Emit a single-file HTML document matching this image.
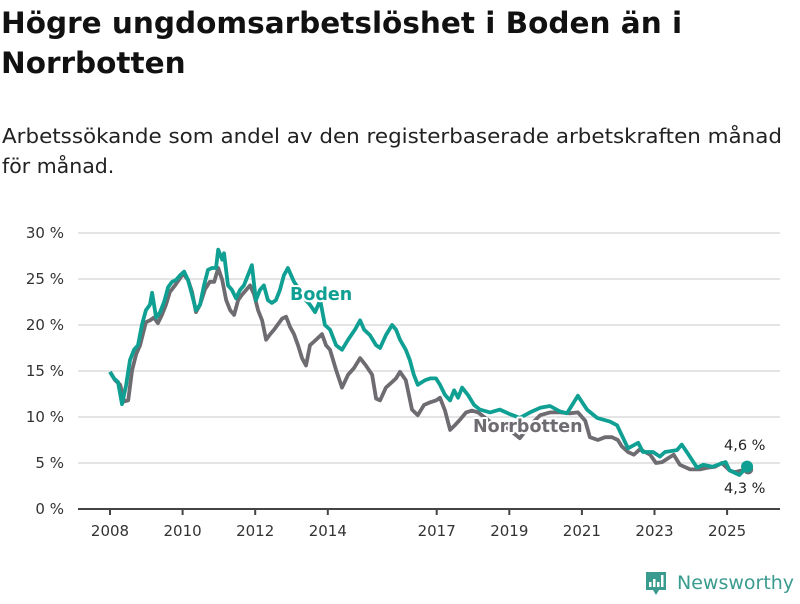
<!DOCTYPE html>
<html><head><meta charset="utf-8"><style>
body{margin:0;background:#fff;width:800px;height:600px;overflow:hidden;font-family:"DejaVu Sans",sans-serif}
</style></head><body>
<svg width="800" height="600" xmlns="http://www.w3.org/2000/svg">
<text x="1" y="33" font-size="29.5" font-weight="bold" fill="#111" font-family="DejaVu Sans, sans-serif">Högre ungdomsarbetslöshet i Boden än i</text>
<text x="1" y="73" font-size="29.5" font-weight="bold" fill="#111" font-family="DejaVu Sans, sans-serif">Norrbotten</text>
<text x="2" y="143" font-size="20.5" fill="#222" font-family="DejaVu Sans, sans-serif" textLength="780" lengthAdjust="spacingAndGlyphs">Arbetssökande som andel av den registerbaserade arbetskraften månad</text>
<text x="2" y="173" font-size="20.5" fill="#222" font-family="DejaVu Sans, sans-serif">för månad.</text>
<g id="grid"></g>
<g id="xaxis"></g>
<g id="lines"></g>
<g id="labels"></g>
<g>
<path d="M646 572h20v18h-7l-3 5-3-5h-7z" fill="#3a9b8f"/>
<rect x="649" y="582" width="2.5" height="5" fill="#fff"/><rect x="653" y="579" width="2.5" height="8" fill="#fff"/><rect x="657" y="582" width="2.5" height="5" fill="#fff"/><rect x="661" y="575" width="2.5" height="12" fill="#fff"/>
<text x="677" y="589" font-size="19" fill="#3a9b8f" font-family="DejaVu Sans, sans-serif">Newsworthy</text>
</g>
</svg>
<script>
const yTicks=[0,5,10,15,20,25,30];
const xTicks=[2008,2010,2012,2014,2017,2019,2021,2023,2025];
const bodenDates=[2008.00,2008.11,2008.22,2008.33,2008.44,2008.55,2008.66,2008.77,2008.88,2008.99,2009.10,2009.16,2009.27,2009.38,2009.49,2009.60,2009.71,2009.82,2009.93,2010.04,2010.15,2010.26,2010.37,2010.48,2010.59,2010.70,2010.81,2010.92,2010.98,2011.09,2011.14,2011.25,2011.36,2011.47,2011.58,2011.69,2011.80,2011.91,2012.02,2012.13,2012.24,2012.35,2012.46,2012.57,2012.68,2012.79,2012.90,2013.07,2013.23,2013.40,2013.51,2013.65,2013.79,2013.92,2014.06,2014.23,2014.39,2014.56,2014.75,2014.89,2015.00,2015.16,2015.33,2015.44,2015.60,2015.77,2015.88,2015.99,2016.15,2016.26,2016.37,2016.48,2016.68,2016.82,2016.98,2017.09,2017.23,2017.37,2017.48,2017.59,2017.70,2017.86,2018.03,2018.19,2018.47,2018.74,2019.02,2019.29,2019.57,2019.85,2020.12,2020.40,2020.59,2020.89,2021.14,2021.42,2021.77,2021.97,2022.27,2022.55,2022.68,2022.96,2023.15,2023.29,2023.62,2023.75,2023.89,2024.17,2024.34,2024.60,2024.96,2025.07,2025.34,2025.55];
const bodenValues=[14.9,14.2,13.8,11.4,13.4,16.2,17.3,17.8,20.0,21.6,22.2,23.5,20.8,21.4,22.5,24.1,24.7,24.9,25.4,25.8,24.9,23.3,21.6,22.2,24.3,26.0,26.2,26.2,28.2,27.1,27.8,24.3,23.8,22.9,23.8,24.3,25.4,26.5,22.7,23.8,24.3,22.7,22.4,22.7,23.8,25.4,26.2,24.7,23.8,22.7,22.2,21.4,22.7,20.0,19.5,17.8,17.3,18.4,19.5,20.5,19.5,18.9,17.8,17.5,18.9,20.0,19.5,18.4,17.3,16.2,14.6,13.5,14.0,14.2,14.2,13.5,12.4,11.8,12.9,12.1,13.2,12.4,11.3,10.8,10.5,10.8,10.3,9.9,10.5,11.0,11.2,10.6,10.4,12.3,10.8,9.9,9.5,9.1,6.6,7.2,6.2,6.2,5.7,6.2,6.4,7.0,6.2,4.5,4.8,4.6,5.1,4.2,3.7,4.6];
const norrDates=[2008.00,2008.14,2008.28,2008.39,2008.50,2008.61,2008.72,2008.83,2008.99,2009.10,2009.21,2009.32,2009.43,2009.54,2009.65,2009.79,2009.93,2010.01,2010.15,2010.26,2010.37,2010.48,2010.62,2010.75,2010.87,2010.98,2011.09,2011.20,2011.31,2011.42,2011.53,2011.64,2011.75,2011.86,2011.97,2012.08,2012.19,2012.30,2012.41,2012.52,2012.63,2012.74,2012.85,2012.96,2013.07,2013.18,2013.29,2013.40,2013.51,2013.62,2013.73,2013.84,2013.95,2014.06,2014.23,2014.39,2014.56,2014.72,2014.89,2015.05,2015.22,2015.33,2015.44,2015.60,2015.77,2015.88,2015.99,2016.15,2016.32,2016.48,2016.65,2016.82,2016.98,2017.09,2017.23,2017.37,2017.50,2017.64,2017.81,2017.97,2018.14,2018.47,2018.88,2019.29,2019.57,2019.85,2020.12,2020.40,2020.67,2020.89,2021.09,2021.22,2021.44,2021.64,2021.83,2021.99,2022.10,2022.27,2022.43,2022.60,2022.74,2022.88,2023.04,2023.21,2023.37,2023.53,2023.70,2023.98,2024.25,2024.47,2024.67,2024.85,2025.07,2025.21,2025.41,2025.58];
const norrValues=[14.9,14.0,13.5,11.7,11.8,15.1,16.8,17.8,20.3,20.5,20.8,20.2,21.1,22.2,23.6,24.3,25.1,25.6,24.9,23.6,21.4,22.2,23.9,24.7,24.7,26.2,24.9,22.7,21.6,21.1,22.7,23.3,23.8,24.3,23.3,21.6,20.5,18.4,19.0,19.5,20.1,20.7,20.9,19.8,19.0,17.8,16.4,15.6,17.8,18.2,18.6,19.0,17.8,17.3,15.1,13.2,14.6,15.3,16.4,15.6,14.6,12.0,11.8,13.2,13.8,14.2,14.9,14.0,10.8,10.2,11.3,11.6,11.8,12.1,10.7,8.6,9.1,9.7,10.5,10.7,10.5,9.5,9.0,7.7,9.1,10.2,10.5,10.5,10.4,10.5,9.6,7.8,7.5,7.8,7.8,7.5,6.8,6.2,5.9,6.5,6.2,5.9,5.0,5.1,5.5,5.9,4.8,4.3,4.3,4.5,4.6,5.0,4.2,4.0,4.2,4.3];
const lastLabels=["4,6 %","4,3 %"];

const NS="http://www.w3.org/2000/svg";
const X=y=>110+(y-2008)*36.3;
const Y=v=>509-v*9.2;
function mk(tag,attrs,parent,text){const e=document.createElementNS(NS,tag);for(const k in attrs)e.setAttribute(k,attrs[k]);if(text!==undefined)e.textContent=text;parent.appendChild(e);return e;}
const F='DejaVu Sans, sans-serif';
const grid=document.getElementById('grid');
yTicks.forEach(t=>{
  if(t>0){const l=mk('line',{x1:78,x2:780,y1:Y(t),y2:Y(t),stroke:'#dcdcdc','stroke-width':1.5},grid);
  
  }
  const tx=mk('text',{x:64,y:Y(t)+5,'text-anchor':'end','font-size':15,fill:'#333','font-family':F},grid,t+' %');
  
  
});
const xa=document.getElementById('xaxis');
const ax=mk('line',{x1:78,x2:780,y1:509,y2:509,stroke:'#444','stroke-width':2},xa);


xTicks.forEach(t=>{
  const tk=mk('line',{x1:X(t),x2:X(t),y1:509,y2:515,stroke:'#444','stroke-width':2},xa);
  
  
  const tl=mk('text',{x:X(t),y:536,'text-anchor':'middle','font-size':15,fill:'#333','font-family':F},xa,String(t));
  
  
});
const lines=document.getElementById('lines');
function path(d,v){return d.map((t,i)=>(i?'L':'M')+X(t).toFixed(1)+','+Y(v[i]).toFixed(1)).join('');}
const pn=mk('path',{d:path(norrDates,norrValues),fill:'none',stroke:'#6e6b71','stroke-width':3.8,'stroke-linejoin':'round'},lines);


const pb=mk('path',{d:path(bodenDates,bodenValues),fill:'none',stroke:'#0fa093','stroke-width':3.8,'stroke-linejoin':'round'},lines);


const nl=norrDates.length-1, bl=bodenDates.length-1;
const dn=mk('circle',{cx:X(norrDates[nl]),cy:Y(norrValues[nl]),r:5,fill:'#6e6b71'},lines);


const db=mk('circle',{cx:X(bodenDates[bl]),cy:Y(bodenValues[bl]),r:6,fill:'#0fa093'},lines);


const lab=document.getElementById('labels');
function halo(x,y,txt,col,name,size,bold){
  const h=mk('text',{x:x,y:y,'font-size':size,'font-weight':bold?'bold':'normal',fill:'#fff',stroke:'#fff','stroke-width':4,'stroke-linejoin':'round','font-family':F},lab,txt);
  
  
  const t=mk('text',{x:x,y:y,'font-size':size,'font-weight':bold?'bold':'normal',fill:col,'font-family':F},lab,txt);
  
  
}
halo(290,300,'Boden','#0fa093','boden-label',17.5,true);
halo(473,432,'Norrbotten','#6e6b71','norrbotten-label',17.5,true);
halo(724,450,lastLabels[0],'#222','boden-last-value',14.5,false);
halo(724,493,lastLabels[1],'#222','norrbotten-last-value',14.5,false);
</script>
</body></html>
